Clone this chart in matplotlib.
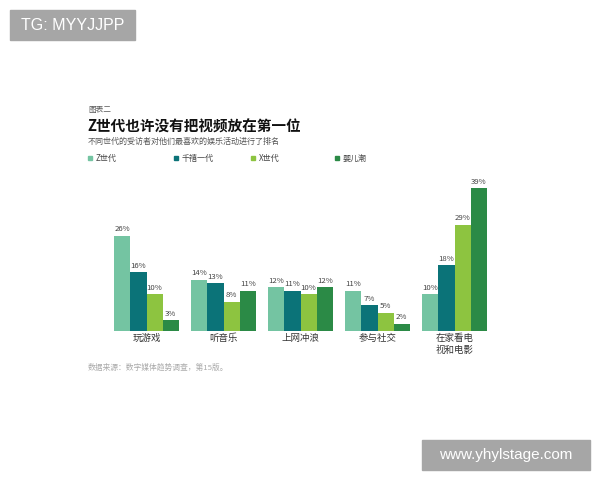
import matplotlib.pyplot as plt
import numpy as np
from matplotlib.patches import Rectangle

plt.rcParams['font.family'] = ['Noto Sans CJK SC', 'DejaVu Sans']

categories = ['玩游戏', '听音乐', '上网冲浪', '参与社交', '在家看电\n视和电影']
series_names = ['Z世代', '千禧一代', 'X世代', '婴儿潮']
z_gen = [26, 14, 12, 11, 10]
millennials = [16, 13, 11, 7, 18]
x_gen = [10, 8, 10, 5, 29]
boomers = [3, 11, 12, 2, 39]
colors = ['#74c4a2', '#0b7378', '#8dc440', '#2b8a46']

W, H = 600, 480
fig = plt.figure(figsize=(6, 4.8), dpi=100)


def fx(px):
    return px / W


def fy(py):
    return 1 - py / H


# plot area
ax = fig.add_axes([fx(108), fy(331), fx(385), 146.7 / H])
x = np.arange(len(categories))
bw = 0.21
for i, (vals, c) in enumerate(zip([z_gen, millennials, x_gen, boomers], colors)):
    pos = x + (i - 1.5) * bw
    rects = ax.bar(pos, vals, width=bw, color=c, linewidth=0)
    for r, v in zip(rects, vals):
        ax.text(r.get_x() + r.get_width() / 2, v + 0.6, f'{v}%',
                ha='center', va='bottom', fontsize=5.6, color='#444444')

ax.set_xlim(-0.5, len(categories) - 0.5)
ax.set_ylim(0, 40)
ax.set_xticks(x)
ax.set_xticklabels(categories, fontsize=6.8, color='#333333', linespacing=1.3)
ax.tick_params(axis='x', length=0, pad=2)
ax.set_yticks([])
for s in ax.spines.values():
    s.set_visible(False)

# headings
fig.text(fx(88), fy(110), '图表二', fontsize=5.5, color='#555555', va='center')
fig.text(fx(87), fy(127), 'Z世代也许没有把视频放在第一位', fontsize=10.5,
         fontweight='bold', color='#111111', va='center')
fig.text(fx(88), fy(141), '不同世代的受访者对他们最喜欢的娱乐活动进行了排名',
         fontsize=5.8, color='#555555', va='center')

# legend
leg_x = [88, 174, 251, 335]
for lx, name, c in zip(leg_x, series_names, colors):
    fig.patches.append(Rectangle((fx(lx), fy(160)), fx(4), 4 / H, color=c,
                                 transform=fig.transFigure, figure=fig))
    fig.text(fx(lx + 8), fy(158), name, fontsize=5.8, color='#444444', va='center')

fig.text(fx(88), fy(368), '数据来源：数字媒体趋势调查，第15版。', fontsize=5.6,
         color='#aaaaaa', va='center')

# watermark boxes
fig.patches.append(Rectangle((fx(10), fy(40)), fx(125), 30 / H, color='#a6a6a6',
                             transform=fig.transFigure, figure=fig))
fig.text(fx(72.5), fy(25), 'TG: MYYJJPP', fontsize=11.5, color='white',
         ha='center', va='center', family='Liberation Sans')
fig.patches.append(Rectangle((fx(422), fy(470)), fx(168), 30 / H, color='#a6a6a6',
                             transform=fig.transFigure, figure=fig))
fig.text(fx(506), fy(455), 'www.yhylstage.com', fontsize=11, color='white',
         ha='center', va='center', family='Liberation Sans')

fig.savefig('out.png', dpi=100)
